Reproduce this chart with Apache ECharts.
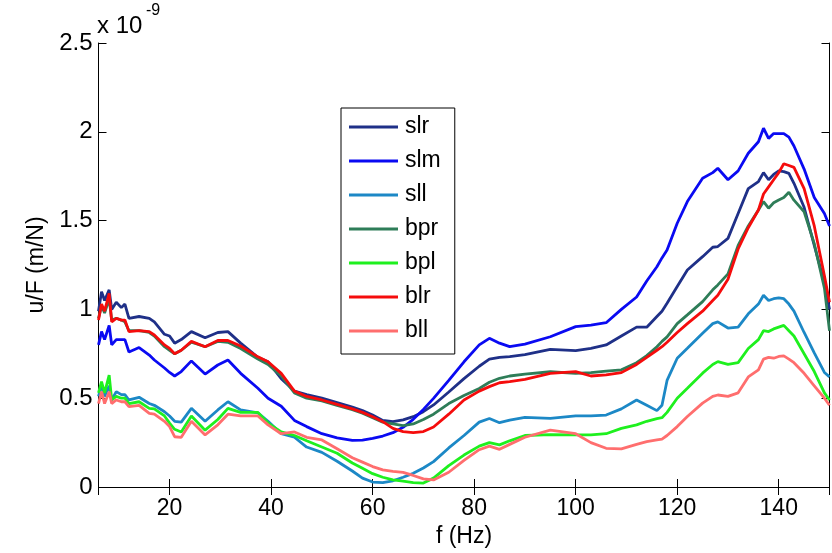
<!DOCTYPE html>
<html><head><meta charset="utf-8">
<script src="https://cdn.jsdelivr.net/npm/echarts@6/dist/echarts.min.js"></script>
<style>html,body{margin:0;padding:0;background:#fff}#c{width:832px;height:553px}</style>
</head><body><div id="c"></div><script>
const freq = [6,6.6,7.2,8.1,8.6,9.5,10.5,11.2,12,14,16,17,19,20,21,22.3,24.3,27,29.5,31.5,34,37.4,39.4,42,44.6,
  47,50,53,56,58,60,62,64,66,68,70,72,75,78,81,
  83,85,87,90,95,100,103,106,109,112,
  114,116,117,118,120,122,125,127,128,130,
  132,134,136,137,138,139,140,141,142,143,
  145,147,149,150];
const slr = [0.99,1.10,1.05,1.11,1.00,1.04,1.01,1.03,0.95,0.96,0.95,0.93,0.86,0.85,0.81,0.83,0.875,0.84,0.87,0.875,0.81,0.73,0.705,0.61,0.54,
  0.52,0.50,0.475,0.45,0.43,0.405,0.375,0.368,0.378,0.396,0.424,0.462,0.535,0.61,0.68,
  0.72,0.73,0.734,0.745,0.775,0.768,0.781,0.80,0.85,0.90,
  0.90,0.96,0.99,1.035,1.129,1.222,1.297,1.35,1.354,1.40,
  1.54,1.68,1.72,1.77,1.73,1.76,1.78,1.776,1.766,1.71,
  1.575,1.36,1.15,1.0];
const slm = [0.80,0.875,0.83,0.91,0.80,0.83,0.83,0.83,0.76,0.785,0.743,0.715,0.67,0.645,0.625,0.65,0.71,0.636,0.687,0.715,0.64,0.556,0.50,0.455,0.375,
  0.34,0.30,0.277,0.262,0.264,0.274,0.287,0.306,0.336,0.381,0.437,0.499,0.60,0.705,0.80,
  0.837,0.81,0.79,0.805,0.846,0.903,0.912,0.925,1.0,1.07,
  1.16,1.24,1.29,1.334,1.485,1.607,1.738,1.77,1.795,1.73,
  1.78,1.879,1.944,2.02,1.963,1.99,1.99,1.99,1.97,1.92,
  1.79,1.63,1.54,1.47];
const sll = [0.51,0.575,0.51,0.57,0.49,0.537,0.52,0.52,0.49,0.505,0.47,0.46,0.424,0.40,0.37,0.365,0.443,0.37,0.434,0.48,0.434,0.418,0.37,0.30,0.28,
  0.225,0.195,0.145,0.09,0.05,0.028,0.025,0.035,0.055,0.077,0.107,0.143,0.22,0.29,0.365,
  0.386,0.362,0.377,0.392,0.386,0.40,0.40,0.405,0.44,0.49,
  0.46,0.43,0.46,0.60,0.725,0.781,0.866,0.92,0.93,0.895,
  0.90,0.975,1.03,1.08,1.05,1.06,1.065,1.06,1.03,0.99,
  0.87,0.755,0.645,0.62];
const bpr = [0.95,1.02,0.98,1.06,0.94,0.95,0.94,0.93,0.88,0.88,0.87,0.85,0.79,0.77,0.75,0.77,0.815,0.79,0.82,0.815,0.78,0.72,0.69,0.625,0.53,
  0.50,0.485,0.46,0.435,0.415,0.39,0.365,0.355,0.345,0.355,0.38,0.41,0.47,0.515,0.555,
  0.59,0.612,0.625,0.635,0.649,0.64,0.644,0.653,0.66,0.70,
  0.74,0.79,0.82,0.845,0.92,0.969,1.044,1.11,1.138,1.20,
  1.36,1.47,1.56,1.607,1.57,1.60,1.616,1.63,1.66,1.615,
  1.55,1.37,1.12,0.88];
const bpl = [0.53,0.593,0.53,0.63,0.49,0.51,0.50,0.50,0.47,0.48,0.443,0.44,0.40,0.36,0.325,0.31,0.40,0.32,0.38,0.443,0.42,0.42,0.36,0.31,0.29,
  0.26,0.225,0.19,0.135,0.105,0.075,0.055,0.04,0.033,0.025,0.022,0.05,0.12,0.18,0.23,
  0.25,0.237,0.26,0.29,0.295,0.293,0.293,0.30,0.33,0.35,
  0.37,0.385,0.39,0.42,0.50,0.556,0.641,0.69,0.706,0.69,
  0.70,0.78,0.83,0.88,0.875,0.89,0.90,0.91,0.88,0.85,
  0.75,0.65,0.53,0.49];
const blr = [0.94,1.03,0.99,1.09,0.93,0.95,0.94,0.94,0.875,0.88,0.875,0.856,0.80,0.78,0.75,0.77,0.82,0.79,0.825,0.825,0.794,0.733,0.705,0.64,0.54,
  0.51,0.49,0.465,0.44,0.42,0.396,0.368,0.33,0.312,0.306,0.312,0.338,0.41,0.49,0.54,
  0.565,0.587,0.593,0.606,0.64,0.65,0.625,0.631,0.644,0.69,
  0.73,0.77,0.79,0.815,0.87,0.92,0.99,1.05,1.08,1.17,
  1.34,1.46,1.56,1.65,1.69,1.73,1.77,1.82,1.81,1.80,
  1.68,1.47,1.19,1.04];
const bll = [0.47,0.537,0.47,0.537,0.47,0.49,0.48,0.48,0.452,0.46,0.415,0.41,0.37,0.34,0.283,0.28,0.37,0.293,0.35,0.41,0.40,0.40,0.35,0.30,0.31,
  0.28,0.265,0.215,0.165,0.14,0.115,0.096,0.088,0.082,0.065,0.046,0.04,0.083,0.15,0.21,
  0.23,0.212,0.24,0.28,0.32,0.30,0.25,0.218,0.215,0.24,
  0.255,0.265,0.27,0.29,0.34,0.397,0.472,0.51,0.518,0.51,
  0.53,0.62,0.66,0.72,0.73,0.725,0.735,0.738,0.72,0.70,
  0.64,0.57,0.50,0.46];

const seriesNames = ['slr','slm','sll','bpr','bpl','blr','bll'];
const seriesValues = [slr, slm, sll, bpr, bpl, blr, bll];
const seriesColors = ['#1f3088','#0a0af2','#1c88c6','#2e7d58','#1ef01e','#f50c0c','#ff6e6e'];
const yTickLabels = ['0','0.5','1','1.5','2','2.5'];
const xLabel = 'f (Hz)';
const yLabel = 'u/F (m/N)';

const FONT = '"Liberation Sans", Arial, sans-serif';
const chart = echarts.init(document.getElementById('c'), null, {renderer:'canvas'});

const axisCommon = {
  axisLine: {show: true, lineStyle: {color: '#000', width: 1}},
  axisTick: {show: true, inside: true, length: 8, lineStyle: {color: '#000'}},
  splitLine: {show: false}
};

chart.setOption({
  animation: false,
  backgroundColor: '#fff',
  textStyle: {fontFamily: FONT},
  grid: {left: 98.5, right: 2.5, top: 43, bottom: 66, containLabel: false},
  legend: {
    orient: 'vertical', left: 341, top: 108,
    data: seriesNames,
    icon: 'rect', itemWidth: 49, itemHeight: 3, itemGap: 10,
    padding: [7, 14, 11, 8],
    backgroundColor: '#fff', borderColor: '#000', borderWidth: 1, borderRadius: 0,
    textStyle: {fontSize: 23, color: '#000', fontFamily: FONT, lineHeight: 24, padding: [0,0,0,2]},
    itemTextGap: 5
  },
  graphic: [
    {type: 'text', left: 97, top: 14, style: {text: 'x 10', fontSize: 24, fill: '#000', fontFamily: FONT}},
    {type: 'text', left: 146, top: 3, style: {text: '-9', fontSize: 16, fill: '#000', fontFamily: FONT}}
  ],
  xAxis: [
    Object.assign({}, axisCommon, {
      type: 'value', position: 'bottom', min: 6, max: 150, splitNumber: 7,
      axisLabel: {show: true, fontSize: 23, color: '#000', margin: 10, fontFamily: FONT,
        showMinLabel: false, showMaxLabel: false,
        formatter: v => (v % 20 === 0 ? String(v) : '')},
      name: xLabel, nameLocation: 'middle', nameGap: 25,
      nameTextStyle: {fontSize: 23, color: '#000', fontFamily: FONT}
    }),
    Object.assign({}, axisCommon, {
      type: 'value', position: 'top', min: 6, max: 150, splitNumber: 7,
      axisLabel: {show: false}
    })
  ],
  yAxis: [
    Object.assign({}, axisCommon, {
      type: 'value', position: 'left', min: 0, max: 2.5, interval: 0.5,
      axisLabel: {show: true, fontSize: 24, color: '#000', margin: 6, fontFamily: FONT,
        formatter: v => yTickLabels[Math.round(v / 0.5)]},
      name: yLabel, nameLocation: 'middle', nameGap: 48,
      nameTextStyle: {fontSize: 23, color: '#000', fontFamily: FONT}
    }),
    Object.assign({}, axisCommon, {
      type: 'value', position: 'right', min: 0, max: 2.5, interval: 0.5,
      axisLabel: {show: false}
    })
  ],
  series: seriesNames.map((n, i) => ({
    name: n, type: 'line', xAxisIndex: 0, yAxisIndex: 0,
    data: freq.map((f, j) => [f, seriesValues[i][j]]),
    symbol: 'none', showSymbol: false,
    lineStyle: {color: seriesColors[i], width: 2.8},
    itemStyle: {color: seriesColors[i]},
    clip: true
  }))
});
</script></body></html>
